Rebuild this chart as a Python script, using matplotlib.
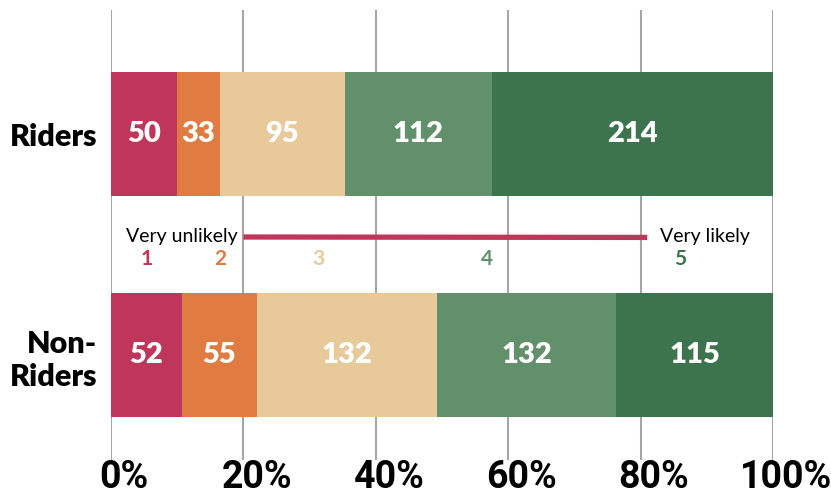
import matplotlib.pyplot as plt
import numpy as np

# Data
groups = ['Riders', 'Non-\nRiders']
levels = ['1', '2', '3', '4', '5']
riders = [50, 33, 95, 112, 214]
non_riders = [52, 55, 132, 132, 115]
colors = ['#C0365A', '#E07C42', '#E8C99A', '#62906B', '#3D734D']
ticks = [0, 20, 40, 60, 80, 100]

fig = plt.figure(figsize=(8.31, 4.97), dpi=100)
ax = fig.add_axes([111 / 831, 1 - 460 / 497, (773 - 111) / 831, 450 / 497])

ypos = [1, 0]
for y, counts in zip(ypos, [riders, non_riders]):
    counts = np.array(counts, dtype=float)
    pct = counts / counts.sum() * 100
    left = 0
    for i, (c, p) in enumerate(zip(counts, pct)):
        ax.barh(y, p, left=left, height=0.56, color=colors[i], zorder=2)
        ax.text(left + p / 2, y, str(int(c)), ha='center', va='center',
                color='white', fontsize=21, fontweight='heavy', family='Lato', zorder=3)
        left += p

# grid
for t in ticks:
    ax.axvline(t, color='#A6A6A6', lw=1.5, zorder=1)

ax.set_xlim(0, 100)
ax.set_ylim(-0.472, 1.56)
ax.set_yticks(ypos)
ax.set_yticklabels(groups, fontsize=22, fontweight='heavy', family='Lato')
ax.set_xticks([])
for t in ticks:
    ax.text(t + 2, -0.6, f'{t}%', ha='center', va='baseline', fontsize=27,
            fontweight='bold', family='Roboto')
ax.tick_params(axis='y', length=0, pad=10)
for s in ax.spines.values():
    s.set_visible(False)

# likelihood scale legend
ax.plot([20, 81], [0.535, 0.533], color='#C0365A', lw=3.8, zorder=3, solid_capstyle='butt')
ax.text(19.2, 0.535, 'Very unlikely', ha='right', va='center', fontsize=14, family='Lato')
ax.text(83, 0.535, 'Very likely', ha='left', va='center', fontsize=14, family='Lato')
num_x = [5.4, 16.5, 31.3, 56.8, 86.0]
for lab, x, c in zip(levels, num_x, colors):
    ax.text(x, 0.436, lab, ha='center', va='center', fontsize=15,
            fontweight='bold', color=c, family='Lato')

fig.savefig('out.png', dpi=100)
